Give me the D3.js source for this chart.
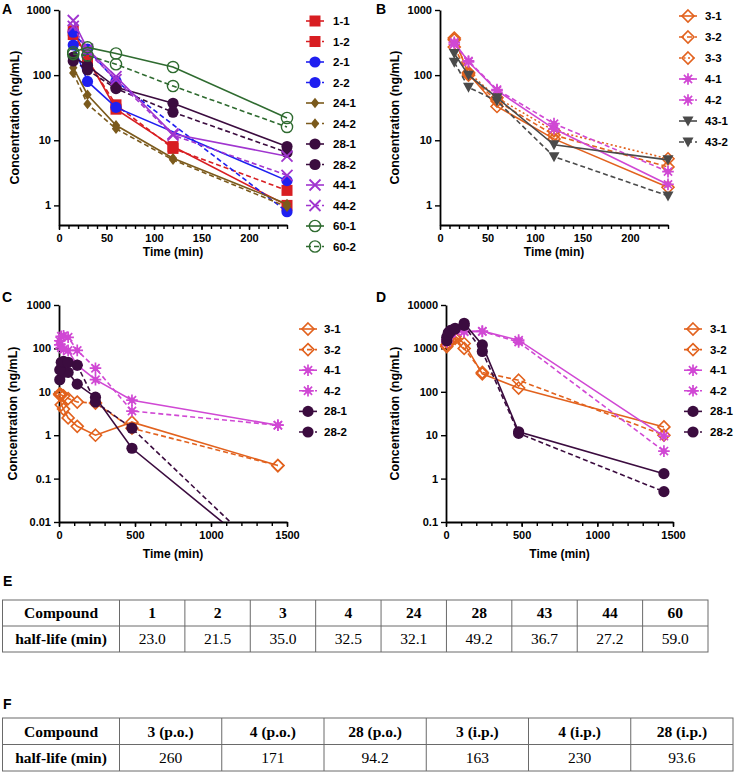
<!DOCTYPE html>
<html>
<head>
<meta charset="utf-8">
<script src="https://cdn.jsdelivr.net/npm/d3@7"></script>
<style>
  body { margin: 0; background: #fff; }
</style>
</head>
<body>
<svg id="chart" width="736" height="774"></svg>
<script>
// ---- data ----
const timesA = [15, 30, 60, 120, 240];
const seriesA = ["1-1", "1-2", "2-1", "2-2", "24-1", "24-2", "28-1", "28-2", "44-1", "44-2", "60-1", "60-2"];
const valuesA = [
  [480, 180, 30, 8, 1.0],
  [420, 170, 35, 7.5, 1.7],
  [290, 80, 32, null, 2.4],
  [455, 250, 81, null, 0.8],
  [130, 50, 17, 5.3, 1.05],
  [108, 36, 15, 5.0, 0.95],
  [190, 140, 65, 37, 8],
  [165, 120, 62, 27, 6.5],
  [690, 250, 95, 12.5, 5.7],
  [560, 230, 85, 12, 2.9],
  [225, 267, 215, 133, 22],
  [210, 200, 147, 68, 16]
];

const timesB = [15, 30, 60, 120, 240];
const seriesB = ["3-1", "3-2", "3-3", "4-1", "4-2", "43-1", "43-2"];
const valuesB = [
  [370, 105, 33, 10.5, 1.9],
  [270, 100, 40, 12, 3.9],
  [350, 110, 45, 14, 5.2],
  [320, 160, 58, 15, 2.1],
  [300, 165, 60, 18, 3.3],
  [215, 100, 45, 8.5, 5.0],
  [158, 65, 40, 5.6, 1.4]
];

const timesCD = [5, 15, 30, 60, 120, 240, 480, 1440];
const seriesCD = ["3-1", "3-2", "4-1", "4-2", "28-1", "28-2"];
const valuesC = [
  [8.5, 5.0, 4.0, 2.5, 1.6, 1.0, 2.0, 0.2],
  [9, 8.5, 8.0, 7.0, 5.8, 5.5, 1.45, 0.2],
  [120, 105, 95, 90, 41, 19, 6.4, 1.7],
  [150, 190, 195, 180, 90, 35, 3.6, 1.7],
  [19, 35, 28, 28, 15, 7.5, 0.5, 0.0009],
  [32, 48, 50, 48, 41, 5.8, 1.45, 0.0009]
];
const valuesD = [
  [1200, 1400, 1600, 1900, 1300, 260, 122, 15.5],
  [1100, 1300, 1500, 1700, 1000, 280, 185, 10],
  [1600, 2000, 2300, 2500, 2400, 2500, 1550, 9.5],
  [1400, 1900, 2200, 2600, 2500, 2450, 1400, 4.3],
  [1800, 2300, 2600, 2800, 3800, 1200, 12, 1.3],
  [1500, 2100, 2400, 2900, 3400, 850, 11, 0.5]
];

const compoundsE = ["1", "2", "3", "4", "24", "28", "43", "44", "60"];
const halfLifeE = ["23.0", "21.5", "35.0", "32.5", "32.1", "49.2", "36.7", "27.2", "59.0"];
const compoundsF = ["3 (p.o.)", "4 (p.o.)", "28 (p.o.)", "3 (i.p.)", "4 (i.p.)", "28 (i.p.)"];
const halfLifeF = ["260", "171", "94.2", "163", "230", "93.6"];

// ---- styles ----
const colors = {
  "1": "#d81e22", "2": "#1f1ff0", "24": "#7b5a1c", "28": "#3b0c3f", "44": "#a035cf",
  "60": "#2f6b30", "3": "#e2621e", "4": "#d048d4", "43": "#4a4a4a"
};
const markers = {
  "1": "square", "2": "circle", "24": "diamond", "28": "circle", "44": "times",
  "60": "ring", "3": "diamondOpen", "4": "star", "43": "triangleDown"
};
const dashes = { "1": null, "2": "5,3", "3": "2,2.5" };

const sans = "Arial, 'Liberation Sans', sans-serif";
const serif = "'Times New Roman', 'Liberation Serif', serif";

const svg = d3.select("#chart");

function drawMarker(g, type, color) {
  if (type === "square") {
    g.append("rect").attr("x", -5.5).attr("y", -5.5).attr("width", 11).attr("height", 11).attr("fill", color);
  } else if (type === "circle") {
    g.append("circle").attr("r", 5.6).attr("fill", color);
  } else if (type === "ring") {
    g.append("circle").attr("r", 5.6).attr("fill", "none").attr("stroke", color).attr("stroke-width", 1.4);
  } else if (type === "diamond") {
    g.append("path").attr("d", "M0,-5.2L4.2,0L0,5.2L-4.2,0Z").attr("fill", color);
  } else if (type === "diamondOpen") {
    g.append("path").attr("d", "M0,-6L6,0L0,6L-6,0Z").attr("fill", "none")
      .attr("stroke", color).attr("stroke-width", 1.6);
  } else if (type === "times") {
    g.append("path").attr("d", "M-5.5,-5.5L5.5,5.5M-5.5,5.5L5.5,-5.5").attr("stroke", color).attr("stroke-width", 1.8);
  } else if (type === "triangleDown") {
    g.append("path").attr("d", "M-5.5,-4.5L5.5,-4.5L0,5.5Z").attr("fill", color);
  } else if (type === "star") {
    let d = "";
    for (let k = 0; k < 4; k++) {
      const a = k * Math.PI / 4;
      const dx = 5.8 * Math.cos(a), dy = 5.8 * Math.sin(a);
      d += `M${-dx},${-dy}L${dx},${dy}`;
    }
    g.append("path").attr("d", d).attr("stroke", color).attr("stroke-width", 1.7);
    g.append("circle").attr("r", 2.8).attr("fill", color);
  }
}

let clipId = 0;

function panel(o) {
  const x = d3.scaleLinear([0, o.xMax], [o.x0, o.x1]);
  const y = d3.scaleLog([o.yMin, o.yMax], [o.yBot, o.yTop]);

  // axes
  const ya = svg.append("g").attr("transform", `translate(${o.x0},0)`)
    .call(d3.axisLeft(y).tickValues(o.yTicks).tickFormat(d3.format("")).tickSize(5).tickPadding(3).tickSizeOuter(0));
  const xa = svg.append("g").attr("transform", `translate(0,${o.yBot})`)
    .call(d3.axisBottom(x).tickValues(o.xTicks).tickFormat(d3.format("")).tickSize(5).tickPadding(4).tickSizeOuter(0));
  svg.append("g").attr("transform", `translate(0,${o.yBot})`)
    .call(d3.axisBottom(x).tickValues(d3.range(0, o.xMax + 1, o.minor)).tickFormat("").tickSize(4).tickSizeOuter(0))
    .call(g => g.select(".domain").remove());
  for (const a of [ya, xa]) {
    a.select(".domain").attr("stroke-width", 1.8);
    a.selectAll("text").attr("font-family", sans).attr("font-weight", "bold").attr("font-size", 11).attr("fill", "#000");
  }
  svg.selectAll(".tick line").attr("stroke-width", 1.4);

  // titles
  svg.append("text").attr("x", (o.x0 + o.x1) / 2).attr("y", o.yBot + o.titleGap)
    .attr("text-anchor", "middle").attr("font-family", sans).attr("font-weight", "bold").attr("font-size", 12)
    .text("Time (min)");
  svg.append("text").attr("transform", `translate(${o.titleX},${(o.yTop + o.yBot) / 2}) rotate(-90)`)
    .attr("text-anchor", "middle").attr("dominant-baseline", "central")
    .attr("font-family", sans).attr("font-weight", "bold").attr("font-size", 12.5)
    .text("Concentration (ng/mL)");
  svg.append("text").attr("x", o.labelX).attr("y", o.labelY)
    .attr("font-family", sans).attr("font-weight", "bold").attr("font-size", 14).text(o.label);

  // clip
  const id = "clip" + (clipId++);
  svg.append("clipPath").attr("id", id).append("rect")
    .attr("x", o.x0 - 8).attr("y", o.yTop - 8).attr("width", o.x1 - o.x0 + 16).attr("height", o.yBot - o.yTop + 8);
  const plot = svg.append("g").attr("clip-path", `url(#${id})`);

  const line = d3.line().defined(d => d[1] != null).x(d => x(d[0])).y(d => y(d[1]));

  o.series.forEach((name, i) => {
    const [cmp, rep] = name.split("-");
    const color = colors[cmp];
    const pts = o.times.map((t, j) => [t, o.values[i][j]]);
    const defined = pts.filter(d => d[1] != null);
    const g = plot.append("g");
    g.append("path").datum(defined).attr("d", line).attr("fill", "none")
      .attr("stroke", color).attr("stroke-width", 1.6).attr("stroke-dasharray", dashes[rep]);
    g.selectAll("g.pt").data(defined).join("g").attr("class", "pt")
      .attr("transform", d => `translate(${x(d[0])},${y(d[1])})`)
      .each(function () { drawMarker(d3.select(this), markers[cmp], color); });

    // legend
    const ly = o.legendY + i * o.legendStep;
    const lg = svg.append("g").attr("transform", `translate(${o.legendX},${ly})`);
    lg.append("path").attr("d", "M-9,0H9").attr("stroke", color).attr("stroke-width", 1.6)
      .attr("stroke-dasharray", dashes[rep]);
    drawMarker(lg, markers[cmp], color);
    svg.append("text").attr("x", o.textX).attr("y", ly).attr("dominant-baseline", "central")
      .attr("font-family", sans).attr("font-weight", "bold").attr("font-size", 11.5).text(name);
  });
}

panel({ label: "A", labelX: 2, labelY: 14, x0: 59, x1: 287, yTop: 10, yBot: 225, xMax: 240, yMin: 0.5, yMax: 1000,
  xTicks: [0, 50, 100, 150, 200], minor: 10, yTicks: [1, 10, 100, 1000], titleX: 15, titleGap: 31,
  times: timesA, series: seriesA, values: valuesA, legendX: 315, textX: 333, legendY: 21, legendStep: 20.5 });

panel({ label: "B", labelX: 376, labelY: 14, x0: 440, x1: 668, yTop: 10, yBot: 225, xMax: 240, yMin: 0.5, yMax: 1000,
  xTicks: [0, 50, 100, 150, 200], minor: 10, yTicks: [1, 10, 100, 1000], titleX: 395, titleGap: 31,
  times: timesB, series: seriesB, values: valuesB, legendX: 688, textX: 705, legendY: 16, legendStep: 21 });

panel({ label: "C", labelX: 2, labelY: 302, x0: 59, x1: 287, yTop: 305, yBot: 522, xMax: 1500, yMin: 0.01, yMax: 1000,
  xTicks: [0, 500, 1000, 1500], minor: 100, yTicks: [0.01, 0.1, 1, 10, 100, 1000], titleX: 13, titleGap: 36,
  times: timesCD, series: seriesCD, values: valuesC, legendX: 308, textX: 324, legendY: 329, legendStep: 20.6 });

panel({ label: "D", labelX: 376, labelY: 302, x0: 446, x1: 673, yTop: 305, yBot: 522, xMax: 1500, yMin: 0.1, yMax: 10000,
  xTicks: [0, 500, 1000, 1500], minor: 100, yTicks: [0.1, 1, 10, 100, 1000, 10000], titleX: 395, titleGap: 36,
  times: timesCD, series: seriesCD, values: valuesD, legendX: 693, textX: 710, legendY: 329, legendStep: 20.6 });

// ---- tables ----
function table(label, labelY, left, firstW, right, top, bottom, heads, vals) {
  svg.append("text").attr("x", 3).attr("y", labelY)
    .attr("font-family", sans).attr("font-weight", "bold").attr("font-size", 14).text(label);
  const colX = d3.scaleLinear([0, heads.length], [left + firstW, right]);
  const mid = (top + bottom) / 2;
  const g = svg.append("g").attr("stroke", "#6a6a6a").attr("stroke-width", 1).attr("fill", "none");
  g.append("rect").attr("x", left).attr("y", top).attr("width", right - left).attr("height", bottom - top);
  g.append("line").attr("x1", left).attr("x2", right).attr("y1", mid).attr("y2", mid);
  d3.range(heads.length).forEach(k => {
    g.append("line").attr("x1", colX(k)).attr("x2", colX(k)).attr("y1", top).attr("y2", bottom);
  });
  const t = svg.append("g").attr("font-family", serif).attr("font-size", 15.5).attr("text-anchor", "middle");
  const r1 = (top + mid) / 2, r2 = (mid + bottom) / 2;
  t.append("text").attr("x", left + firstW / 2).attr("y", r1).attr("dy", "0.35em").attr("font-weight", "bold").text("Compound");
  t.append("text").attr("x", left + firstW / 2).attr("y", r2).attr("dy", "0.35em").attr("font-weight", "bold").text("half-life (min)");
  heads.forEach((h, k) => {
    const cx = (colX(k) + colX(k + 1)) / 2;
    t.append("text").attr("x", cx).attr("y", r1).attr("dy", "0.35em").attr("font-weight", "bold").text(h);
    t.append("text").attr("x", cx).attr("y", r2).attr("dy", "0.35em").text(vals[k]);
  });
}

table("E", 586, 2.5, 117, 708, 600, 652, compoundsE, halfLifeE);
table("F", 709, 2.5, 117, 733, 718, 771, compoundsF, halfLifeF);
</script>
</body>
</html>
